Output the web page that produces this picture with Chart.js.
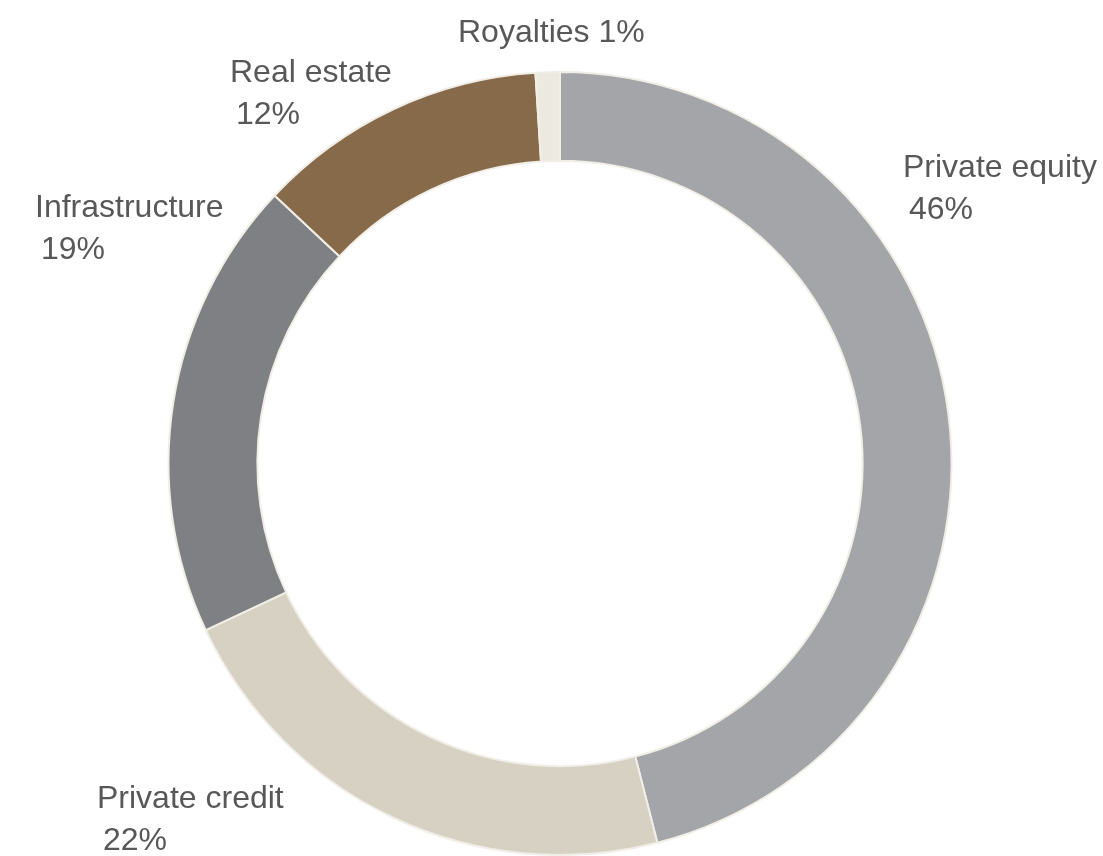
<!DOCTYPE html>
<html>
<head>
<meta charset="utf-8">
<title>Allocation by asset class</title>
<script src="https://cdn.jsdelivr.net/npm/chart.js@4.4.1/dist/chart.umd.min.js"></script>
<style>
  html, body { margin: 0; padding: 0; background: #ffffff; }
  #wrap { position: relative; width: 1103px; height: 856px; }
</style>
</head>
<body>
<div id="wrap"><canvas id="allocation"></canvas></div>
<script>
// allocation by asset class, in percent
const categories = ["Private equity", "Private credit", "Infrastructure", "Real estate", "Royalties"];
const shares = [46, 22, 19, 12, 1];
const sliceColors = ["#a3a5a8", "#d7d1c3", "#7f8083", "#876a4a", "#ece9e1"];

// where each label sits: left edge and first baseline, and whether it is one line
const labelSpots = [
  { x: 903, y: 177 },
  { x: 97, y: 808 },
  { x: 35, y: 217 },
  { x: 230, y: 82 },
  { x: 458, y: 42, oneLine: true }
];

const labelPlugin = {
  id: "sliceLabels",
  afterDraw(chart, args, opts) {
    const ctx = chart.ctx;
    const values = chart.data.datasets[0].data;
    ctx.save();
    ctx.font = opts.font;
    ctx.fillStyle = opts.color;
    ctx.textAlign = "left";
    ctx.textBaseline = "alphabetic";
    if ("letterSpacing" in ctx) ctx.letterSpacing = opts.letterSpacing;
    chart.data.labels.forEach((name, i) => {
      const spot = labelSpots[i];
      const pct = values[i] + "%";
      if (spot.oneLine) {
        ctx.fillText(name + " " + pct, spot.x, spot.y);
      } else {
        ctx.fillText(name, spot.x, spot.y);
        ctx.fillText(pct, spot.x + opts.indent, spot.y + opts.lineHeight);
      }
    });
    ctx.restore();
  }
};

new Chart(document.getElementById("allocation"), {
  type: "doughnut",
  data: {
    labels: categories,
    datasets: [{
      data: shares,
      backgroundColor: sliceColors,
      borderColor: "#f1eee7",
      borderWidth: 2,
      hoverOffset: 0
    }]
  },
  options: {
    responsive: true,
    maintainAspectRatio: false,
    animation: false,
    cutout: "77.3%",
    layout: { padding: { top: 71, bottom: -1, left: 167, right: 150 } },
    plugins: {
      legend: { display: false },
      tooltip: { enabled: false },
      sliceLabels: {
        font: "32px 'Liberation Sans', Arial, sans-serif",
        color: "#585858",
        letterSpacing: "0px",
        indent: 6,
        lineHeight: 42
      }
    }
  },
  plugins: [labelPlugin]
});
</script>
</body>
</html>
